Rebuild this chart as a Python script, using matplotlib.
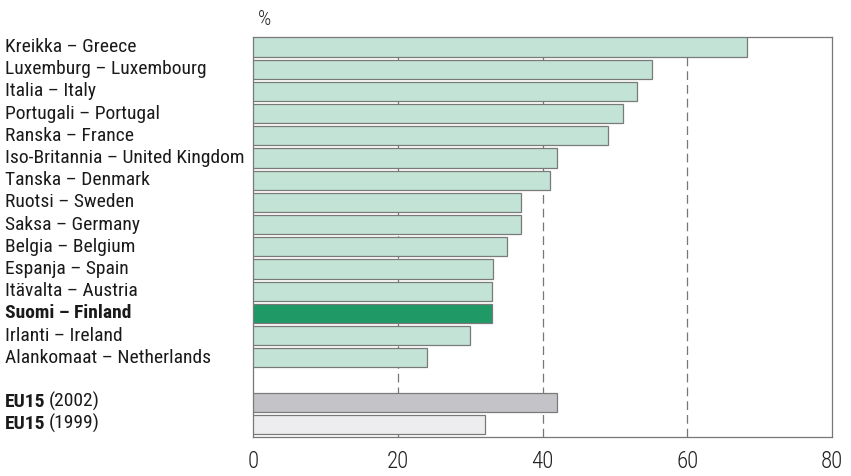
import matplotlib.pyplot as plt
from matplotlib import font_manager
from matplotlib.transforms import blended_transform_factory

# data
labels = ['Kreikka – Greece', 'Luxemburg – Luxembourg', 'Italia – Italy',
          'Portugali – Portugal', 'Ranska – France',
          'Iso-Britannia – United Kingdom', 'Tanska – Denmark',
          'Ruotsi – Sweden', 'Saksa – Germany', 'Belgia – Belgium',
          'Espanja – Spain', 'Itävalta – Austria', 'Suomi – Finland',
          'Irlanti – Ireland', 'Alankomaat – Netherlands']
values = [68.2, 55.1, 53.1, 51.1, 49.1, 42.0, 41.0, 37.0, 37.0, 35.1,
          33.1, 33.0, 33.0, 30.0, 24.0]
eu_years = ['(2002)', '(1999)']
eu_values = [42.0, 32.0]
xticks = [0, 20, 40, 60, 80]

# narrow font if one is installed
names = {f.name for f in font_manager.fontManager.ttflist}
fams = [f for f in ['Roboto Condensed', 'Liberation Sans Narrow']
        if f in names]
fams.append('DejaVu Sans')
plt.rcParams['font.family'] = fams
plt.rcParams['font.stretch'] = 'condensed'

fig = plt.figure(figsize=(8.51, 4.76), dpi=100)
ax = fig.add_axes([0.2973, 0.0819, 0.6804, 0.8404])

ypos = list(range(len(labels)))
colors = ['#1f9a66' if 'Finland' in l else '#c2e3d6' for l in labels]
ax.barh(ypos, values, height=0.86, color=colors, edgecolor='#7a7a7a',
        linewidth=0.9, zorder=3)

eu_pos = [len(labels) + 1, len(labels) + 2]
ax.barh(eu_pos, eu_values, height=0.86, color=['#c3c3c8', '#ededf0'],
        edgecolor='#7a7a7a', linewidth=0.9, zorder=3)

ax.set_xlim(0, 80)
ax.set_ylim(eu_pos[-1] + 0.57, -0.45)
ax.set_xticks(xticks)
ax.set_xticklabels([str(t) for t in xticks], fontsize=16.5,
                   fontweight='light')
ax.set_yticks([])
ax.tick_params(axis='x', length=0, pad=9, colors='#222222')
for x in xticks[1:-1]:
    ax.axvline(x, color='#777777', linestyle=(0, (7, 4)), linewidth=0.9,
               zorder=1)
for s in ax.spines.values():
    s.set_color('#777777')
    s.set_linewidth(0.9)

# labels on the left
tr = blended_transform_factory(fig.transFigure, ax.transData)
for y, l in zip(ypos, labels):
    bold = 'Finland' in l
    ax.text(0.006, y, l, transform=tr, ha='left', va='center',
            fontsize=14, fontweight='bold' if bold else 'normal',
            color='#1a1a1a')
for y, yr in zip(eu_pos, eu_years):
    t = ax.text(0.006, y, 'EU15', transform=tr, ha='left', va='center',
                fontsize=14, fontweight='bold', color='#1a1a1a')
    ax.annotate(yr, xy=(1, 0), xycoords=t, xytext=(2, 0),
                textcoords='offset points', ha='left', va='bottom',
                fontsize=14, color='#1a1a1a')

fig.text(0.303, 0.958, '%', fontsize=15, fontweight='light', ha='left',
         va='center', color='#222222')

fig.savefig('out.png', dpi=100)
